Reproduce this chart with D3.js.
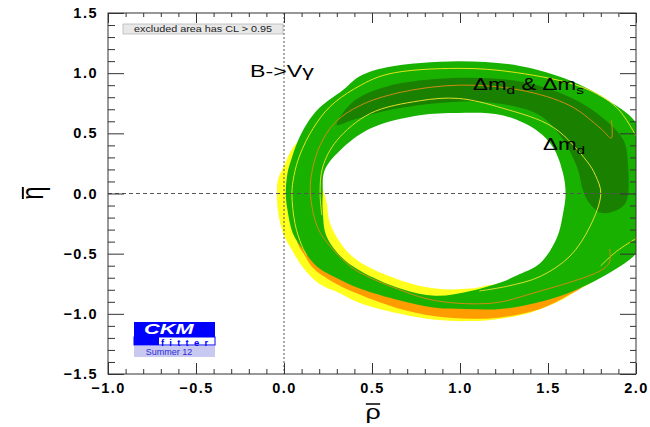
<!DOCTYPE html>
<html>
<head>
<meta charset="utf-8">
<script src="https://cdnjs.cloudflare.com/ajax/libs/d3/7.8.5/d3.min.js"></script>
<style>
	body { margin: 0; background: #fff; }
	svg { display: block; }
</style>
</head>
<body>
<div id="chart"></div>
<script>
// axis ranges and tick values
var rhoDomain = [-1.0, 2.0];
var etaDomain = [-1.5, 1.5];
var majorTicksRho = [-1.0, -0.5, 0.0, 0.5, 1.0, 1.5, 2.0];
var majorTicksEta = [-1.5, -1.0, -0.5, 0.0, 0.5, 1.0, 1.5];
var minorTicksRho = [-0.9, -0.8, -0.7, -0.6, -0.4, -0.3, -0.2, -0.1, 0.1, 0.2, 0.3, 0.4, 0.6, 0.7, 0.8, 0.9, 1.1, 1.2, 1.3, 1.4, 1.6, 1.7, 1.8, 1.9];
var minorTicksEta = [-1.4, -1.3, -1.2, -1.1, -0.9, -0.8, -0.7, -0.6, -0.4, -0.3, -0.2, -0.1, 0.1, 0.2, 0.3, 0.4, 0.6, 0.7, 0.8, 0.9, 1.1, 1.2, 1.3, 1.4];

// constraint regions, [rho, eta] points
var yellowOuter = [[0.99,0.98],[0.66,0.94],[0.40,0.80],[0.16,0.52],[0.06,0.40],[0.00,0.23],[-0.035,0.11],[-0.04,-0.02],[-0.035,-0.14],[-0.005,-0.33],[0.045,-0.47],[0.11,-0.62],[0.20,-0.75],[0.32,-0.83],[0.43,-0.91],[0.66,-1.00],[0.86,-1.05],[1.06,-1.06],[1.23,-1.04],[1.40,-0.99],[1.57,-0.89],[1.65,-0.82],[1.80,-0.68],[1.91,-0.39],[1.94,0.36],[1.57,0.86]];
var yellowInner = [[1.17,-0.76],[1.06,-0.79],[0.86,-0.79],[0.66,-0.72],[0.43,-0.57],[0.33,-0.43],[0.26,-0.24],[0.24,-0.06],[0.205,0.10],[0.18,0.23],[0.26,0.52],[0.49,0.73],[0.99,0.81],[1.34,0.77],[1.625,0.61],[1.74,0.19],[1.74,-0.22],[1.625,-0.56],[1.40,-0.74]];
var orangeBand = [[0.075,-0.39],[0.12,-0.52],[0.165,-0.62],[0.26,-0.72],[0.43,-0.84],[0.66,-0.96],[0.86,-1.02],[1.06,-1.04],[1.23,-1.03],[1.455,-0.96],[1.61,-0.85],[1.70,-0.76],[1.65,-0.68],[1.43,-0.85],[1.23,-0.89],[0.86,-0.87],[0.66,-0.81],[0.43,-0.71],[0.20,-0.47],[0.11,-0.35]];
var greenOuter = [[0.99,1.10],[1.34,1.06],[1.625,0.94],[1.81,0.80],[2.00,0.59],[2.07,0.27],[2.08,-0.06],[2.05,-0.35],[2.00,-0.50],[1.80,-0.70],[1.61,-0.83],[1.43,-0.91],[1.23,-0.96],[1.03,-0.96],[0.86,-0.95],[0.66,-0.89],[0.43,-0.79],[0.31,-0.71],[0.19,-0.61],[0.11,-0.47],[0.05,-0.33],[0.02,-0.14],[0.01,0.00],[0.02,0.17],[0.045,0.30],[0.08,0.44],[0.13,0.58],[0.20,0.71],[0.335,0.86],[0.43,0.975],[0.585,1.05]];
var greenInner = [[0.99,0.67],[1.24,0.65],[1.44,0.52],[1.53,0.38],[1.585,0.17],[1.60,0.00],[1.585,-0.17],[1.55,-0.37],[1.455,-0.58],[1.34,-0.67],[1.23,-0.74],[1.06,-0.81],[0.86,-0.85],[0.66,-0.79],[0.43,-0.64],[0.32,-0.52],[0.24,-0.35],[0.22,-0.14],[0.22,0.00],[0.23,0.19],[0.32,0.36],[0.49,0.54],[0.77,0.65]];
var darkGreen = [[0.30,0.57],[0.39,0.76],[0.585,0.89],[0.96,0.96],[1.34,0.93],[1.625,0.80],[1.81,0.63],[1.93,0.44],[1.955,0.23],[1.955,0.00],[1.94,-0.08],[1.89,-0.14],[1.80,-0.16],[1.73,-0.07],[1.70,0.02],[1.665,0.22],[1.57,0.48],[1.44,0.66],[1.15,0.76],[0.87,0.75],[0.585,0.69],[0.39,0.61]];

// contour lines
var yellowOuterLine = [[2.005,0.465],[1.89,0.715],[1.70,0.88],[1.32,1.005],[0.99,1.04],[0.585,0.99],[0.40,0.87],[0.26,0.72],[0.165,0.54],[0.09,0.32],[0.057,0.15],[0.045,0.00],[0.0625,-0.25],[0.10,-0.43],[0.13,-0.515]];
var yellowEdgeLine = [[1.80,-0.60],[1.89,-0.48],[2.005,-0.37]];
var orangeLine = [[1.86,0.61],[1.86,0.46],[1.80,0.54],[1.625,0.73],[1.34,0.86],[0.99,0.90],[0.66,0.84],[0.43,0.73],[0.29,0.59],[0.205,0.40],[0.16,0.19],[0.15,0.00],[0.19,-0.28],[0.28,-0.47],[0.39,-0.62],[0.49,-0.70],[0.62,-0.78],[0.86,-0.89],[1.19,-0.91],[1.41,-0.83],[1.80,-0.64],[1.85,-0.57],[1.85,-0.46]];
var yellowInnerLine = [[1.11,-0.81],[1.27,-0.77],[1.455,-0.69],[1.625,-0.52],[1.74,-0.27],[1.80,0.00],[1.77,0.15],[1.72,0.27],[1.53,0.55],[1.24,0.71],[0.99,0.79],[0.77,0.77],[0.49,0.665],[0.30,0.44],[0.22,0.22],[0.205,0.00],[0.215,-0.18]];

var font = "'Liberation Sans', Arial, Helvetica, sans-serif";
var width = 650, height = 427;
var plot = {left: 108, right: 636, top: 13, bottom: 374};

var svg = d3.select('#chart').append('svg')
	.attr('width', width)
	.attr('height', height)
	.style('font-family', font);

var x = d3.scaleLinear().domain(rhoDomain).range([plot.left, plot.right]);
var y = d3.scaleLinear().domain(etaDomain).range([plot.bottom, plot.top]);

svg.append('defs').append('clipPath')
	.attr('id', 'plotClip')
	.append('rect')
		.attr('x', plot.left)
		.attr('y', plot.top)
		.attr('width', plot.right - plot.left)
		.attr('height', plot.bottom - plot.top);

var area = d3.line()
	.x(function(d) { return x(d[0]); })
	.y(function(d) { return y(d[1]); })
	.curve(d3.curveCatmullRomClosed.alpha(0.5));

var contour = d3.line()
	.x(function(d) { return x(d[0]); })
	.y(function(d) { return y(d[1]); })
	.curve(d3.curveCatmullRom.alpha(0.5));

var g = svg.append('g').attr('clip-path', 'url(#plotClip)');

// filled regions, back to front
g.append('path')
	.attr('d', area(yellowOuter) + area(yellowInner))
	.attr('fill-rule', 'evenodd')
	.attr('fill', '#ffff1e');

g.append('path')
	.attr('d', area(orangeBand))
	.attr('fill', '#ff9c00');

g.append('path')
	.attr('d', area(greenOuter) + area(greenInner))
	.attr('fill-rule', 'evenodd')
	.attr('fill', '#19b100');

g.append('path')
	.attr('d', area(darkGreen))
	.attr('fill', '#198000');

// contour lines
[[yellowOuterLine, '#e4e41a'], [yellowEdgeLine, '#e4e41a'], [orangeLine, '#d08a10'], [yellowInnerLine, '#dede2a']].forEach(function(c) {
	g.append('path')
		.attr('d', contour(c[0]))
		.attr('fill', 'none')
		.attr('stroke', c[1])
		.attr('stroke-width', 1);
});

// zero lines
g.append('line')
	.attr('x1', plot.left).attr('x2', plot.right)
	.attr('y1', y(0)).attr('y2', y(0))
	.attr('stroke', '#555')
	.attr('stroke-dasharray', '4,3');

g.append('line')
	.attr('x1', x(0)).attr('x2', x(0))
	.attr('y1', plot.top).attr('y2', plot.bottom)
	.attr('stroke', '#555')
	.attr('stroke-dasharray', '2,2');

// stretched text helper
function label(parent, px, py, sx, size) {
	return parent.append('text')
		.attr('transform', 'translate(' + px + ',' + py + ') scale(' + sx + ',1)')
		.style('font-size', size + 'px');
}

var t1 = label(svg, 250, 77, 1.45, 16);
t1.append('tspan').text('B->V');
t1.append('tspan').text('γ');

var t2 = label(svg, 473, 90, 1.4, 16);
t2.append('tspan').text('Δm');
t2.append('tspan').attr('dy', 4).style('font-size', '11px').text('d');
t2.append('tspan').attr('dy', -4).text(' & Δm');
t2.append('tspan').attr('dy', 4).style('font-size', '11px').text('s');

var t3 = label(svg, 543, 150, 1.4, 16);
t3.append('tspan').text('Δm');
t3.append('tspan').attr('dy', 4).style('font-size', '11px').text('d');

// CL legend box
svg.append('rect')
	.attr('x', 123).attr('y', 24)
	.attr('width', 160).attr('height', 10)
	.attr('fill', '#e8e8e8')
	.attr('stroke', '#b0b0b0')
	.attr('stroke-width', 0.7);

label(svg, 203, 32, 1.2, 9)
	.attr('text-anchor', 'middle')
	.attr('fill', '#222')
	.text('excluded area has CL > 0.95');

// CKMfitter logo
var logo = svg.append('g');
logo.append('rect').attr('x', 134).attr('y', 322).attr('width', 81).attr('height', 15).attr('fill', '#0000ff');
logo.append('rect').attr('x', 134).attr('y', 337).attr('width', 81).attr('height', 8).attr('fill', '#fff').attr('stroke', '#0000ff').attr('stroke-width', 1);
logo.append('rect').attr('x', 134).attr('y', 337).attr('width', 25).attr('height', 8).attr('fill', '#0000ff');
logo.append('rect').attr('x', 134).attr('y', 346).attr('width', 81).attr('height', 11).attr('fill', '#c8c8f0');
label(logo, 144, 333.5, 1.45, 15)
	.attr('fill', '#fff')
	.style('font-weight', 'bold')
	.style('font-style', 'italic')
	.text('CKM');
logo.append('text')
	.attr('x', 161).attr('y', 345.5)
	.attr('fill', '#0000ff')
	.style('font-size', '9.5px')
	.style('font-weight', 'bold')
	.style('letter-spacing', '5.2px')
	.text('fitter');
logo.append('text')
	.attr('x', 169).attr('y', 355)
	.attr('text-anchor', 'middle')
	.attr('fill', '#2a2ad8')
	.style('font-size', '9px')
	.text('Summer 12');

// axes: major and minor ticks on all four sides
var fmt = d3.format('.1f');

function styleAxis(sel) {
	sel.selectAll('.domain').remove();
	sel.selectAll('line').attr('stroke', '#333');
	sel.selectAll('text')
		.style('font-family', font)
		.style('font-size', '14.5px')
		.style('font-weight', 'bold')
		.style('letter-spacing', '1.5px')
		.attr('fill', '#000');
}

svg.append('g').attr('transform', 'translate(0,' + plot.bottom + ')')
	.call(d3.axisBottom(x).tickValues(majorTicksRho).tickFormat(fmt).tickSize(-11).tickPadding(9))
	.call(styleAxis);
svg.append('g').attr('transform', 'translate(0,' + plot.bottom + ')')
	.call(d3.axisBottom(x).tickValues(minorTicksRho).tickFormat('').tickSize(-5))
	.call(styleAxis);
svg.append('g').attr('transform', 'translate(0,' + plot.top + ')')
	.call(d3.axisTop(x).tickValues(majorTicksRho).tickFormat('').tickSize(-10))
	.call(styleAxis);
svg.append('g').attr('transform', 'translate(0,' + plot.top + ')')
	.call(d3.axisTop(x).tickValues(minorTicksRho).tickFormat('').tickSize(-4))
	.call(styleAxis);

svg.append('g').attr('transform', 'translate(' + plot.left + ',0)')
	.call(d3.axisLeft(y).tickValues(majorTicksEta).tickFormat(fmt).tickSize(-16).tickPadding(10))
	.call(styleAxis);
svg.append('g').attr('transform', 'translate(' + plot.left + ',0)')
	.call(d3.axisLeft(y).tickValues(minorTicksEta).tickFormat('').tickSize(-7))
	.call(styleAxis);
svg.append('g').attr('transform', 'translate(' + plot.right + ',0)')
	.call(d3.axisRight(y).tickValues(majorTicksEta).tickFormat('').tickSize(-16))
	.call(styleAxis);
svg.append('g').attr('transform', 'translate(' + plot.right + ',0)')
	.call(d3.axisRight(y).tickValues(minorTicksEta).tickFormat('').tickSize(-6))
	.call(styleAxis);

// frame
svg.append('rect')
	.attr('x', plot.left).attr('y', plot.top)
	.attr('width', plot.right - plot.left)
	.attr('height', plot.bottom - plot.top)
	.attr('fill', 'none')
	.attr('stroke', '#333')
	.attr('stroke-width', 1);

// axis titles with overbars
var rhoTitle = svg.append('g').attr('transform', 'translate(373,419) scale(1.3,1)');
rhoTitle.append('text')
	.attr('text-anchor', 'middle')
	.style('font-size', '21px')
	.text('ρ');
rhoTitle.append('line')
	.attr('x1', -5.5).attr('x2', 5.5)
	.attr('y1', -15).attr('y2', -15)
	.attr('stroke', '#000').attr('stroke-width', 1.5);

var etaTitle = svg.append('g').attr('transform', 'translate(43,193) rotate(-90) scale(1,1.3)');
etaTitle.append('text')
	.attr('text-anchor', 'middle')
	.style('font-size', '24px')
	.text('η');
etaTitle.append('line')
	.attr('x1', -6).attr('x2', 6)
	.attr('y1', -15.5).attr('y2', -15.5)
	.attr('stroke', '#000').attr('stroke-width', 1.5);
</script>
</body>
</html>
